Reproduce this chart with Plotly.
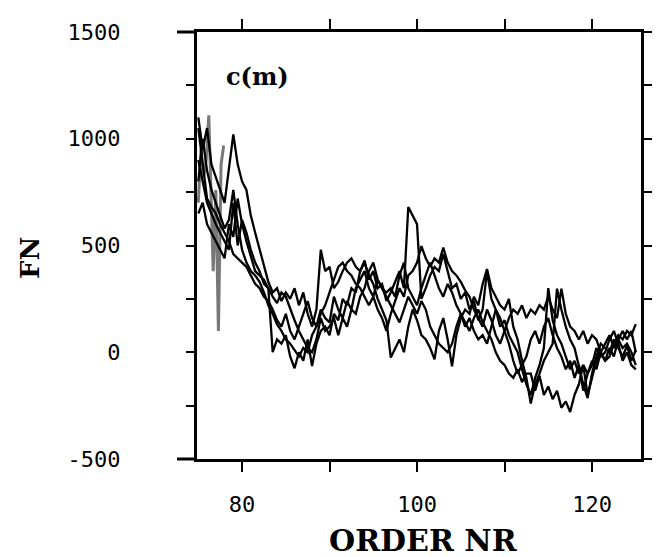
import plotly.graph_objects as go

x_grid = [75 + 0.5 * i for i in range(101)]

s1 = [1100, 950, 1050, 880, 820, 760, 700, 860, 1020, 880, 800, 760, 640, 560, 480, 400, 330, 280, 300, 240,
      280, 250, 300, 220, 280, 180, 120, 200, 480, 380, 400, 300, 330, 380, 420, 440, 400, 380, 430, 340,
      380, 300, 320, 240, 280, 330, 380, 300, 680, 640, 600, 250, 300, 360, 400, 380, 460, 380, 300, 320,
      250, 280, 200, 240, 150, 200, 380, 250, 200, 120, 150, 80, 40, 0, -80, -150, -200, -120, -60, 20,
      300, 150, 80, 40, -20, -80, -40, -100, -60, -200, -120, -40, 0, -40, 20, -20, 60, 20, 40, 0, -60]

s2 = [900, 800, 700, 650, 600, 560, 520, 480, 700, 500, 620, 560, 480, 420, 380, 320, 300, 0, 60, 40,
      80, -20, -75, 0, -40, 60, -65, 40, 100, 120, 80, 180, 150, 250, 220, 300, 280, 380, 420, 360,
      320, 250, 200, 150, -25, 20, 60, 0, 120, 200, 150, 80, 60, 20, -33, 100, 160, 60, -66, 80,
      160, 200, 180, 260, 220, 320, 390, 300, 260, 220, 200, 250, 120, 60, -40, -120, -240, -150, -100, -40,
      0, 40, 298, 200, 120, 60, 20, -60, -150, -215, -100, -20, 40, 20, 0, 60, 20, -20, 30, -40, 10]

s3 = [800, 1000, 850, 760, 700, 640, 580, 620, 760, 600, 480, 420, 380, 360, 330, 280, 220, 180, 130, 100,
      60, 40, 10, -20, 20, 0, 80, 120, 180, 220, 280, 340, 400, 420, 380, 360, 320, 300, 260, 220,
      260, 200, 160, 100, 180, 240, 300, 260, 360, 380, 420, 497, 440, 400, 440, 420, 490, 420, 380, 360,
      330, 290, 260, 200, 160, 120, 200, 150, 80, 40, 100, 160, 200, 180, 220, 160, 200, 180, 220, 200,
      260, 200, 160, 298, 180, 120, 100, 60, 100, 40, 80, 60, 0, -40, -20, 40, 80, 60, 100, 80, 132]

s4 = [1050, 880, 720, 680, 650, 600, 560, 520, 460, 440, 420, 400, 360, 320, 300, 260, 240, 200, 150, 120,
      180, 100, 60, 120, 180, 240, 160, 120, 200, 160, 140, 260, 200, 160, 240, 200, 300, 340, 380, 300,
      260, 340, 300, 260, 220, 180, 140, 200, 260, 220, 180, 240, 200, 120, 80, 40, 20, 0, 40, 120,
      180, 140, 100, 160, 200, 140, 100, 60, 0, -40, -60, -100, -120, -80, -140, -100, -100, -180, -110, -200,
      -160, -220, -180, -260, -230, -280, -200, -150, -60, -100, -40, -80, 0, 40, 80, 20, 60, 100, 60, 100, 0]

s5 = [650, 700, 600, 560, 520, 480, 440, 600, 540, 720, 600, 520, 450, 380, 360, 340, 300, 260, 230, 280,
      260, 200, 150, 100, 60, 20, 0, 60, 160, 100, 120, 160, 80, 160, 120, 200, 180, 260, 300, 380,
      420, 340, 300, 280, 300, 260, 360, 420, 300, 260, 220, 300, 360, 420, 360, 300, 260, 320, 280, 220,
      180, 120, 160, 100, 60, 80, 40, 120, 200, 160, 100, 40, -40, -100, -60, -20, 60, 100, 40, 120,
      160, 80, 20, -20, -80, -40, -120, -60, -180, -100, -60, 20, -20, 0, 60, 100, 40, -40, 0, -60, -80]

gray_x = [75, 75.3, 75.6, 75.9, 76.2, 76.5, 76.7, 77.0, 77.3, 77.6, 77.9]
gray_y = [700, 950, 820, 900, 1110, 700, 380, 760, 100, 880, 968]

x_ticks = [80, 90, 100, 110, 120]
x_ticktext = ["80", "", "100", "", "120"]
y_ticks = [-500, -250, 0, 250, 500, 750, 1000, 1250, 1500]
y_ticktext = ["-500", "", "0", "", "500", "", "1000", "", "1500"]

fig = go.Figure()
fig.add_trace(go.Scatter(x=gray_x, y=gray_y, mode="lines",
                         line=dict(color="rgb(120,120,120)", width=3)))
for s in [s1, s2, s3, s4, s5]:
    fig.add_trace(go.Scatter(x=x_grid, y=s, mode="lines",
                             line=dict(color="black", width=2.3)))

tickfont = dict(family="DejaVu Sans Mono", size=22, color="black")
fig.update_layout(
    width=668, height=557,
    margin=dict(l=189, r=35, t=24, b=106),
    paper_bgcolor="white", plot_bgcolor="white",
    showlegend=False,
    xaxis=dict(range=[74.85, 125.6], tickvals=x_ticks, ticktext=x_ticktext,
               ticks="outside", ticklen=10, tickwidth=2, tickcolor="black",
               showline=True, linecolor="black", linewidth=3, mirror="ticks",
               showgrid=False, zeroline=False, tickfont=tickfont,
               ticklabelstandoff=14),
    yaxis=dict(range=[-500, 1500], tickvals=y_ticks, ticktext=y_ticktext,
               ticks="outside", ticklen=8, tickwidth=2, tickcolor="black",
               showline=True, linecolor="black", linewidth=3, mirror="ticks",
               showgrid=False, zeroline=False, tickfont=tickfont,
               ticklabelstandoff=61),
    annotations=[
        dict(text="<b>ORDER NR</b>", x=0.511, y=-0.19, xref="paper", yref="paper",
             showarrow=False, font=dict(family="DejaVu Serif", size=30, color="black"),
             xanchor="center", yanchor="middle"),
        dict(text="<b>FN</b>", x=-0.376, y=0.471, xref="paper", yref="paper",
             showarrow=False, textangle=-90,
             font=dict(family="DejaVu Serif", size=26, color="black"),
             xanchor="center", yanchor="middle"),
        dict(text="<b>c(m)</b>", x=81.8, y=1290, xref="x", yref="y",
             showarrow=False, font=dict(family="DejaVu Serif", size=24, color="black"),
             xanchor="center", yanchor="middle"),
    ],
    shapes=[
        dict(type="line", xref="paper", yref="paper", x0=-0.045, x1=0, y0=0, y1=0,
             line=dict(color="black", width=3)),
        dict(type="line", xref="paper", yref="paper", x0=-0.045, x1=0, y0=1, y1=1,
             line=dict(color="black", width=3)),
    ],
)

fig.write_html("out.html")
